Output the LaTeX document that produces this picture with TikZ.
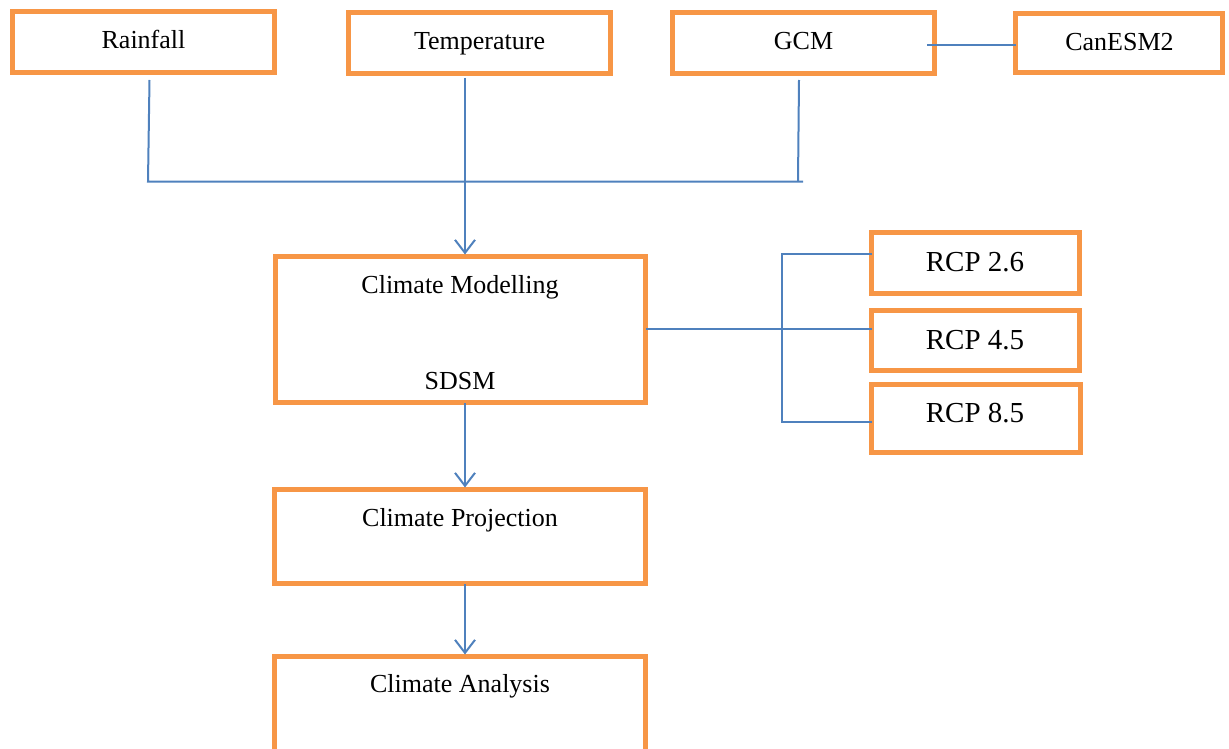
\documentclass[tikz,border=0pt]{standalone}
\usepackage{fontspec}
\setmainfont{Liberation Serif}
\usetikzlibrary{arrows.meta}
\definecolor{boxorange}{HTML}{F79646}
\definecolor{lineblue}{HTML}{4F81BD}
\begin{document}
\begin{tikzpicture}[x=1pt,y=-1pt,
  box/.style={draw=boxorange,line width=5pt,inner sep=0pt,outer sep=0pt,rectangle},
  lbl/.style={anchor=base,inner sep=0pt,font=\fontsize{26}{30}\selectfont},
  rlbl/.style={anchor=base,inner sep=0pt,font=\fontsize{29}{33}\selectfont},
  conn/.style={draw=lineblue,line width=2pt},
  arr/.style={conn,-{Straight Barb[length=13pt,width=20pt,line width=2pt]}}]
\useasboundingbox (0,0) rectangle (1229,749);
\clip (0,0) rectangle (1229,749);

% boxes
\node[box,minimum width=262pt,minimum height=61pt] (rain) at (143.5,42) {};
\node[box,minimum width=262pt,minimum height=61pt] (temp) at (479.5,43) {};
\node[box,minimum width=262pt,minimum height=61pt] (gcm) at (803.5,43) {};
\node[box,minimum width=207pt,minimum height=59pt] (can) at (1119,43) {};
\node[box,minimum width=370pt,minimum height=146pt] (model) at (460.5,329.5) {};
\node[box,minimum width=208pt,minimum height=61pt] (rcp26) at (975.5,263) {};
\node[box,minimum width=208pt,minimum height=60pt] (rcp45) at (975.5,340.5) {};
\node[box,minimum width=209pt,minimum height=68pt] (rcp85) at (976,418.5) {};
\node[box,minimum width=371pt,minimum height=94pt] (proj) at (460,536.5) {};
\node[box,minimum width=371pt,minimum height=104pt] (anal) at (460,708.5) {};

% labels
\node[lbl] (train) at (143.5,49) {Rainfall};
\node[lbl] (ttemp) at (479.5,50) {Temperature};
\node[lbl] (tgcm) at (803.5,50) {GCM};
\node[lbl] (tcan) at (1119.5,51) {CanESM2};
\node[lbl] (tmodel) at (460,293) {Climate Modelling};
\node[lbl] (tsdsm) at (460,389) {SDSM};
\node[rlbl] (t26) at (975,271) {RCP 2.6};
\node[rlbl] (t45) at (975,349) {RCP 4.5};
\node[rlbl] (t85) at (975,422) {RCP 8.5};
\node[lbl] (tproj) at (460,526) {Climate Projection};
\node[lbl] (tanal) at (460,692) {Climate Analysis};

% connectors
\coordinate (rdrop) at (149.5,80);
\coordinate (jl) at (148,181.5);
\coordinate (jr) at (803,181.5);
\coordinate (gdrop) at (799,80);
\coordinate (gbot) at (798,181.5);
\draw[conn] (rdrop) -- (jl) -- (jr);
\draw[conn] (gdrop) -- (gbot);

\coordinate (tdrop) at (465,78);
\coordinate (mtop) at ([yshift=2pt]model.north);
\draw[arr] (tdrop) -- (tdrop |- mtop);

\coordinate (gstub) at (927,45);
\draw[conn] (gstub) -- (gstub -| can.west);

\coordinate (mout) at (646,329);
\coordinate (vt) at (782,254);
\coordinate (vm) at (782,329);
\coordinate (vb) at (782,422);
\draw[conn] (mout) -- (vm) -- (vm -| rcp45.west);
\draw[conn] (rcp26.west |- vt) -- (vt) -- (vb) -- (rcp85.west |- vb);

\coordinate (a1) at (465,403);
\coordinate (ptop) at ([yshift=2pt]proj.north);
\draw[arr] (a1) -- (a1 |- ptop);
\coordinate (a2) at (465,584);
\coordinate (atop) at ([yshift=2pt]anal.north);
\draw[arr] (a2) -- (a2 |- atop);
\end{tikzpicture}
\end{document}
